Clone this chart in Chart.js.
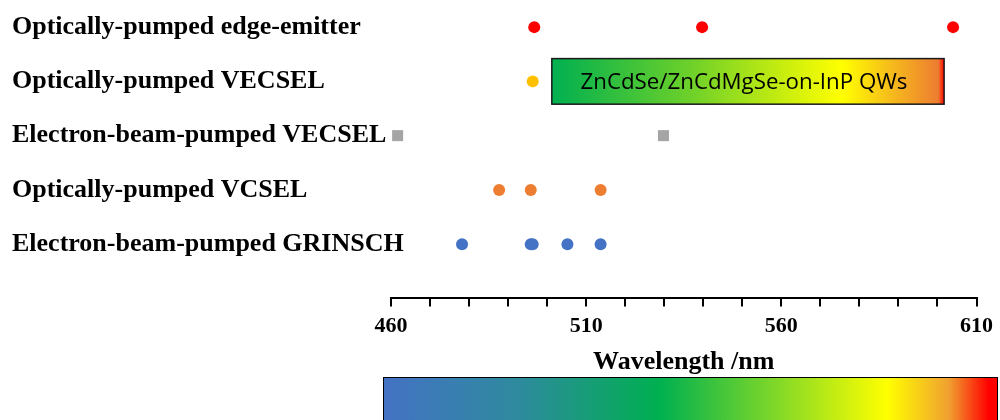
<!DOCTYPE html>
<html>
<head>
<meta charset="utf-8">
<script src="https://cdn.jsdelivr.net/npm/chart.js@4.4.1/dist/chart.umd.min.js"></script>
<style>
  html, body { margin: 0; padding: 0; background: #ffffff; }
  #wrap { width: 1000px; height: 420px; position: relative; }
</style>
</head>
<body>
<div id="wrap"><canvas id="c" width="1000" height="420"></canvas></div>
<script>
// ---- Data ----
const categories = [
  'Electron-beam-pumped GRINSCH',
  'Optically-pumped VCSEL',
  'Electron-beam-pumped VECSEL',
  'Optically-pumped VECSEL',
  'Optically-pumped edge-emitter'
];
const rowValues = [1, 2, 3, 4, 5];
const grinschWavelengths = [478.2, 495.8, 496.3, 505.2, 513.7];
const vcselWavelengths = [487.7, 495.8, 513.7];
const ebVecselWavelengths = [461.7, 529.8];
const opVecselWavelengths = [496.3];
const edgeEmitterWavelengths = [496.7, 539.7, 604.0];
const tickLabels = [460, 510, 560, 610];
const axisTitle = 'Wavelength /nm';
const boxText = 'ZnCdSe/ZnCdMgSe-on-InP QWs';
const boxRange = [501.2, 601.7];
const boxRowRange = [3.58, 4.42];

const seriesList = [
  { values: grinschWavelengths, row: 1, color: '#4472C4', style: 'circle', r: 6 },
  { values: vcselWavelengths, row: 2, color: '#ED7D31', style: 'circle', r: 6 },
  { values: ebVecselWavelengths, row: 3, color: '#A5A5A5', style: 'rect', r: 7.8 },
  { values: opVecselWavelengths, row: 4, color: '#FFC000', style: 'circle', r: 6 },
  { values: edgeEmitterWavelengths, row: 5, color: '#FF0000', style: 'circle', r: 6 }
];

const serif = '"Liberation Serif", "Times New Roman", serif';
const Y_AXIS_WIDTH = 379;

const boxPlugin = {
  id: 'qwBox',
  afterDatasetsDraw(chart) {
    const ctx = chart.ctx;
    const xs = chart.scales.x, ys = chart.scales.y;
    const x0 = xs.getPixelForValue(boxRange[0]);
    const x1 = xs.getPixelForValue(boxRange[1]);
    const y0 = ys.getPixelForValue(boxRowRange[1]);
    const y1 = ys.getPixelForValue(boxRowRange[0]);
    ctx.save();
    const g = ctx.createLinearGradient(x0, 0, x1, 0);
    g.addColorStop(0, '#00B050');
    g.addColorStop(0.35, '#6CD02A');
    g.addColorStop(0.58, '#C4EC10');
    g.addColorStop(0.74, '#FFFF00');
    g.addColorStop(0.86, '#F6BE1A');
    g.addColorStop(0.985, '#ED7D31');
    g.addColorStop(1, '#FF0000');
    ctx.fillStyle = g;
    ctx.fillRect(x0, y0, x1 - x0, y1 - y0);
    ctx.lineWidth = 1.5;
    ctx.strokeStyle = '#1a1a1a';
    ctx.strokeRect(x0, y0, x1 - x0, y1 - y0);
    let size = 20;
    ctx.font = size + 'px "Open Sans", "Noto Sans", sans-serif';
    const w = ctx.measureText(boxText).width;
    size = size * 327 / w;
    ctx.font = size.toFixed(2) + 'px "Open Sans", "Noto Sans", sans-serif';
    ctx.fillStyle = '#000000';
    ctx.textAlign = 'center';
    ctx.textBaseline = 'middle';
    ctx.fillText(boxText, (x0 + x1) / 2 - 4, (y0 + y1) / 2 + 1);
    ctx.restore();
  }
};

const colorBarPlugin = {
  id: 'colorBar',
  afterDraw(chart) {
    const ctx = chart.ctx;
    const left = 383, right = 998, top = 377, bottom = 430;
    ctx.save();
    const g = ctx.createLinearGradient(left, 0, right, 0);
    g.addColorStop(0, '#4472C4');
    g.addColorStop(0.22, '#2E8A9E');
    g.addColorStop(0.45, '#00B050');
    g.addColorStop(0.63, '#7AD62A');
    g.addColorStop(0.82, '#FFFF00');
    g.addColorStop(0.92, '#F0A030');
    g.addColorStop(0.985, '#FF0000');
    g.addColorStop(1, '#FF0000');
    ctx.fillStyle = g;
    ctx.fillRect(left, top, right - left, bottom - top);
    ctx.lineWidth = 1;
    ctx.strokeStyle = '#000000';
    ctx.strokeRect(left + 0.5, top + 0.5, right - left - 1, bottom - top);
    ctx.restore();
  }
};

const chart = new Chart(document.getElementById('c'), {
  type: 'scatter',
  data: {
    datasets: seriesList.map(s => ({
      data: s.values.map(v => ({ x: v, y: s.row })),
      backgroundColor: s.color,
      borderWidth: 0,
      pointStyle: s.style,
      pointRadius: s.r,
      pointHoverRadius: s.r,
      clip: false
    }))
  },
  options: {
    responsive: false,
    animation: false,
    devicePixelRatio: 1,
    events: [],
    layout: { autoPadding: false, padding: { left: 12, right: 23, top: 0, bottom: 38 } },
    plugins: { legend: { display: false }, tooltip: { enabled: false } },
    scales: {
      x: {
        type: 'linear',
        min: 460,
        max: 610,
        grid: { drawOnChartArea: false, drawTicks: true, tickLength: 8, color: '#000000', lineWidth: 2 },
        border: { display: true, color: '#000000', width: 2 },
        ticks: {
          stepSize: 10,
          autoSkip: false,
          maxRotation: 0,
          padding: 7,
          color: '#000000',
          font: { family: serif, size: 22, weight: 'bold' },
          callback: v => tickLabels.includes(v) ? String(v) : ''
        },
        title: {
          display: true,
          text: axisTitle,
          color: '#000000',
          font: { family: serif, size: 26, weight: 'bold' },
          padding: { top: 0, bottom: 4 }
        }
      },
      y: {
        type: 'linear',
        min: 0,
        max: 5.5,
        grid: { display: false },
        border: { display: false },
        afterBuildTicks(scale) { scale.ticks = rowValues.map(v => ({ value: v })); },
        afterFit(scale) {
          scale.width = Y_AXIS_WIDTH;
          scale.paddingTop = 0;
          scale.paddingBottom = 0;
        },
        ticks: {
          mirror: true,
          crossAlign: 'near',
          padding: -Y_AXIS_WIDTH,
          color: '#000000',
          font: { family: serif, size: 26, weight: 'bold' },
          callback: v => categories[rowValues.indexOf(v)] || ''
        }
      }
    }
  },
  plugins: [boxPlugin, colorBarPlugin]
});
</script>
</body>
</html>
